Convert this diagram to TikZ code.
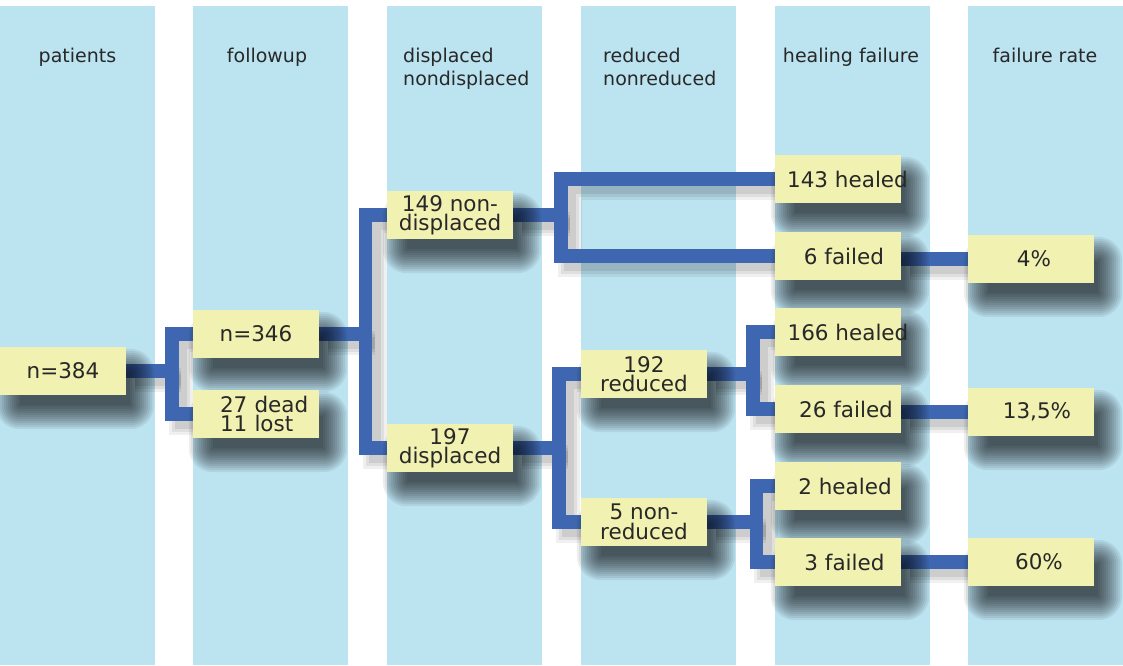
\documentclass[tikz,border=0pt]{standalone}
\usepackage{fontspec}
\setmainfont{DejaVu Sans}
\definecolor{colblue}{RGB}{188,227,240}
\definecolor{boxyel}{RGB}{241,241,177}
\definecolor{linkblue}{RGB}{63,103,177}
\definecolor{txt}{RGB}{40,40,40}
\pgfdeclarelayer{cols}
\pgfdeclarelayer{lshadow}
\pgfdeclarelayer{links}
\pgfdeclarelayer{bshadow}
\pgfsetlayers{cols,lshadow,links,bshadow,main}
\newcommand\shiftr[2]{\makebox[0pt][c]{\hspace*{#1}#2}}
\newcommand\linkpaths[1]{%
  \draw[#1] (n384.east) -- (s1);
  \draw[#1] (n346.west) -| (s1) |- (lost.west);
  \draw[#1] (n346.east) -- (s2);
  \draw[#1] (nd.west) -| (s2) |- (dp.west);
  \draw[#1] (nd.east) -- (s3);
  \draw[#1] (h143.west) -| (s3) |- (f6.west);
  \draw[#1] (dp.east) -- (s4);
  \draw[#1] (rd.west) -| (s4) |- (nr.west);
  \draw[#1] (rd.east) -- (s5);
  \draw[#1] (h166.west) -| (s5) |- (f26.west);
  \draw[#1] (nr.east) -- (s6);
  \draw[#1] (h2.west) -| (s6) |- (f3.west);
  \draw[#1] (r4.west -| f6.east) -- (r4.west);
  \draw[#1] (r13.west -| f26.east) -- (r13.west);
  \draw[#1] (r60.west -| f3.east) -- (r60.west);
}
\begin{document}
\begin{tikzpicture}[x=1pt,y=-1pt,
  box/.style={fill=boxyel, text=txt, minimum width=126pt, minimum height=48pt,
    inner sep=0pt, align=center, font=\fontsize{21.5}{19.5}\selectfont},
  head/.style={text=txt, font=\fontsize{19}{23}\selectfont, inner sep=0pt},
  link/.style={draw=linkblue, line width=13.5pt},
  lshadowA/.style={draw=black, line width=24pt, opacity=0.06, transform canvas={xshift=9pt,yshift=-9pt}},
  lshadowB/.style={draw=black, line width=18pt, opacity=0.07, transform canvas={xshift=9pt,yshift=-9pt}},
  lshadowC/.style={draw=black, line width=12pt, opacity=0.08, transform canvas={xshift=9pt,yshift=-9pt}},
  bsh/.style={fill=black, opacity=0.065}]
\useasboundingbox (0,0) rectangle (1123,665);
\begin{pgfonlayer}{cols}
  \fill[white] (0,0) rectangle (1123,665);
  \fill[colblue] (0,6) rectangle (155,665);
  \fill[colblue] (193,6) rectangle (348,665);
  \fill[colblue] (387,6) rectangle (542,665);
  \fill[colblue] (581,6) rectangle (736,665);
  \fill[colblue] (775,6) rectangle (930,665);
  \fill[colblue] (968,6) rectangle (1123,665);
\end{pgfonlayer}
% headers
\node[head, anchor=base] (hp) at (77.5,62) {patients};
\node[head, anchor=base] (hf) at (267,62) {followup};
\node[head, anchor=base west] (hd1) at (403,62) {displaced};
\node[head, anchor=base west] (hd2) at (403,85) {nondisplaced};
\node[head, anchor=base west] (hr1) at (603,62) {reduced};
\node[head, anchor=base west] (hr2) at (603,85) {nonreduced};
\node[head, anchor=base] (hh) at (851,62) {healing failure};
\node[head, anchor=base] (hfr) at (1045,62) {failure rate};
% boxes
\node[box] (n384) at (63,371) {n=384};
\node[box] (n346) at (256,334) {n=346};
\node[box, text width=72pt, align=left] (lost) at (256,414) {27~dead\\11~lost};
\node[box] (nd) at (450,215) {149 non-\\displaced};
\node[box] (dp) at (450,448) {197\\displaced};
\node[box] (rd) at (644,374) {192\\reduced};
\node[box] (nr) at (644,522) {5 non-\\reduced};
\node[box] (h143) at (838,179) {\shiftr{19pt}{143 healed}};
\node[box] (f6) at (838,256) {\shiftr{12pt}{6 failed}};
\node[box] (h166) at (838,332) {\shiftr{20pt}{166 healed}};
\node[box] (f26) at (838,409) {\shiftr{16pt}{26 failed}};
\node[box] (h2) at (838,486) {\shiftr{14pt}{2 healed}};
\node[box] (f3) at (838,562) {\shiftr{13pt}{3 failed}};
\node[box] (r4) at (1031,259) {\shiftr{6pt}{4\%}};
\node[box] (r13) at (1031,412) {\shiftr{12pt}{13,5\%}};
\node[box] (r60) at (1031,562) {\shiftr{16pt}{60\%}};
% split points
\coordinate (s1) at (172,371);
\coordinate (s2) at (365.5,334);
\coordinate (s3) at (561,215);
\coordinate (s4) at (559,448);
\coordinate (s5) at (753,374);
\coordinate (s6) at (756.5,522);
\begin{pgfonlayer}{lshadow}
  \linkpaths{lshadowA}
  \linkpaths{lshadowB}
  \linkpaths{lshadowC}
\end{pgfonlayer}
\begin{pgfonlayer}{links}
  \linkpaths{link}
\end{pgfonlayer}
\begin{pgfonlayer}{bshadow}
  \foreach \n in {n384,n346,lost,nd,dp,rd,nr,h143,f6,h166,f26,h2,f3,r4,r13,r60}{
    \foreach \e in {0,2,4,6,8,10,12,14,16,18,20,22,24}{
      \fill[bsh, rounded corners=\e pt]
        ([xshift={(20-\e)*1pt}, yshift={-(26-\e)*1pt}]\n.north west)
        rectangle
        ([xshift={(4+\e)*1pt}, yshift={-(10+\e)*1pt}]\n.south east);
    }
  }
\end{pgfonlayer}
\end{tikzpicture}
\end{document}
